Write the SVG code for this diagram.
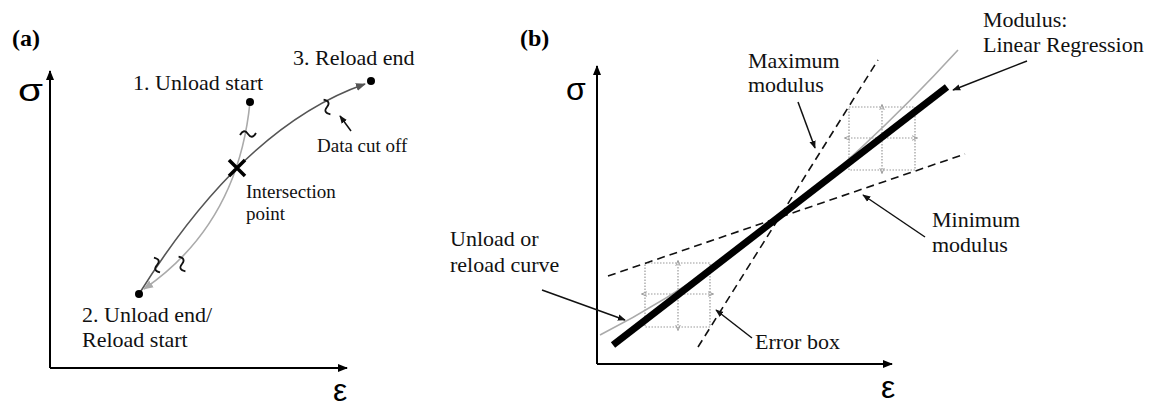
<svg xmlns="http://www.w3.org/2000/svg" width="1158" height="407" viewBox="0 0 1158 407">
<style>
.lbl{font-family:"Liberation Serif","Times New Roman",serif;font-size:22px;fill:#111}
.sm{font-family:"Liberation Serif","Times New Roman",serif;font-size:19px;fill:#111}
.pan{font-family:"Liberation Serif","Times New Roman",serif;font-size:24px;font-weight:bold;fill:#000}
.sym{font-family:"Liberation Sans",Arial,sans-serif;font-size:32px;fill:#000}
.axis{stroke:#000;stroke-width:2;fill:none}
.ptr{stroke:#111;stroke-width:1.5;fill:none;marker-end:url(#ah)}
.dash{stroke:#111;stroke-width:1.6;fill:none;stroke-dasharray:8 5}
.box{stroke:#999;stroke-width:1.2;fill:none;stroke-dasharray:1.5 1.5}
.bar{stroke:#999;stroke-width:1.2;fill:none;stroke-dasharray:1.5 1.5;marker-start:url(#gh);marker-end:url(#gh)}
.brk{stroke:#111;stroke-width:1.8;fill:none}
</style>
<defs>
<marker id="ax" viewBox="0 0 10 10" refX="9" refY="5" markerWidth="5" markerHeight="5" orient="auto"><path d="M0,1 L10,5 L0,9 z" fill="#000"/></marker>
<marker id="ah" viewBox="0 0 10 10" refX="9" refY="5" markerWidth="8" markerHeight="8" markerUnits="userSpaceOnUse" orient="auto"><path d="M0,1 L10,5 L0,9 z" fill="#111"/></marker>
<marker id="dk" viewBox="0 0 10 10" refX="9" refY="5" markerWidth="10" markerHeight="10" markerUnits="userSpaceOnUse" orient="auto"><path d="M0,1 L10,5 L0,9 z" fill="#555"/></marker>
<marker id="lg" viewBox="0 0 10 10" refX="9" refY="5" markerWidth="10" markerHeight="10" markerUnits="userSpaceOnUse" orient="auto"><path d="M0,1 L10,5 L0,9 z" fill="#aaa"/></marker>
<marker id="gh" viewBox="0 0 10 10" refX="9" refY="5" markerWidth="6" markerHeight="6" markerUnits="userSpaceOnUse" orient="auto-start-reverse"><path d="M0,1 L10,5 L0,9" fill="none" stroke="#999" stroke-width="1.5"/></marker>
<path id="wave" d="M-8,1 q4,-7 8,-1 t8,-1"/>
</defs>

<g id="panel-a">
  <text class="pan" x="12" y="46">(a)</text>
  <g id="a-axes">
    <path class="axis" d="M50,368 L50,71" marker-end="url(#ax)"/>
    <path class="axis" d="M50,368 L347,368" marker-end="url(#ax)"/>
    <text class="sym" x="18" y="101" textLength="25" lengthAdjust="spacingAndGlyphs">σ</text>
    <text class="sym" x="333" y="401">ε</text>
  </g>
  <g id="a-curves">
    <path d="M139,294 Q244,126 365,84" stroke="#555" stroke-width="1.6" fill="none" marker-end="url(#dk)"/>
    <path d="M250,102 Q238,224 144,289" stroke="#aaa" stroke-width="1.6" fill="none" marker-end="url(#lg)"/>
  </g>
  <g id="a-breaks">
    <use href="#wave" class="brk" transform="translate(248,134)"/>
    <use href="#wave" class="brk" transform="translate(327,107) rotate(72)"/>
    <use href="#wave" class="brk" transform="translate(157,265) rotate(75)"/>
    <use href="#wave" class="brk" transform="translate(182,264) rotate(72)"/>
  </g>
  <g id="a-point1"><circle cx="250" cy="102" r="4"/><text class="lbl" x="133" y="90">1. Unload start</text></g>
  <g id="a-point2"><circle cx="139" cy="294" r="4"/><text class="lbl" x="82" y="322">2. Unload end/</text><text class="lbl" x="82" y="347">Reload start</text></g>
  <g id="a-point3"><circle cx="371" cy="81" r="4"/><text class="lbl" x="293" y="65">3. Reload end</text></g>
  <g id="a-intersection">
    <path d="M229,160 L245,176 M245,160 L229,176" stroke="#000" stroke-width="3.5"/>
    <text class="sm" x="246" y="198">Intersection</text>
    <text class="sm" x="246" y="220">point</text>
  </g>
  <g id="a-cutoff">
    <path class="ptr" d="M351,131 L340,116"/>
    <text class="sm" x="317" y="152">Data cut off</text>
  </g>
</g>

<g id="panel-b">
  <text class="pan" x="520" y="46">(b)</text>
  <g id="b-axes">
    <path class="axis" d="M597,364 L597,66" marker-end="url(#ax)"/>
    <path class="axis" d="M597,364 L892,364" marker-end="url(#ax)"/>
    <text class="sym" x="566" y="100">σ</text>
    <text class="sym" x="881" y="398">ε</text>
  </g>
  <g id="b-boxes">
    <rect class="box" x="645" y="263" width="65" height="64"/>
    <path class="bar" d="M678,261 L678,330"/>
    <path class="bar" d="M642,294 L713,294"/>
    <rect class="box" x="849" y="107" width="66" height="63"/>
    <path class="bar" d="M882,105 L882,173"/>
    <path class="bar" d="M845,138 L917,138"/>
  </g>
  <g id="b-lines">
    <path class="dash" d="M698,347 L878,60"/>
    <path class="dash" d="M608,276 L965,154"/>
    <path d="M600,335 Q781,243 958,50" stroke="#aaa" stroke-width="1.6" fill="none"/>
    <path d="M613,345 L947,87" stroke="#000" stroke-width="7"/>
  </g>
  <g id="b-max"><text class="lbl" x="748" y="68">Maximum</text><text class="lbl" x="748" y="92">modulus</text></g>
  <g id="b-min"><text class="lbl" x="932" y="227">Minimum</text><text class="lbl" x="932" y="252">modulus</text></g>
  <g id="b-reg"><text class="lbl" x="983" y="27">Modulus:</text><text class="lbl" x="983" y="52">Linear Regression</text></g>
  <g id="b-curve"><text class="lbl" x="450" y="246">Unload or</text><text class="lbl" x="450" y="272">reload curve</text></g>
  <g id="b-err"><text class="lbl" x="755" y="349">Error box</text></g>
</g>

<g id="connectors">
  <path class="ptr" d="M798,102 L815,148"/>
  <path class="ptr" d="M925,237 L863,195"/>
  <path class="ptr" d="M1027,61 L953,90"/>
  <path class="ptr" d="M542,290 L625,320"/>
  <path class="ptr" d="M752,338 L716,310"/>
</g>
</svg>
